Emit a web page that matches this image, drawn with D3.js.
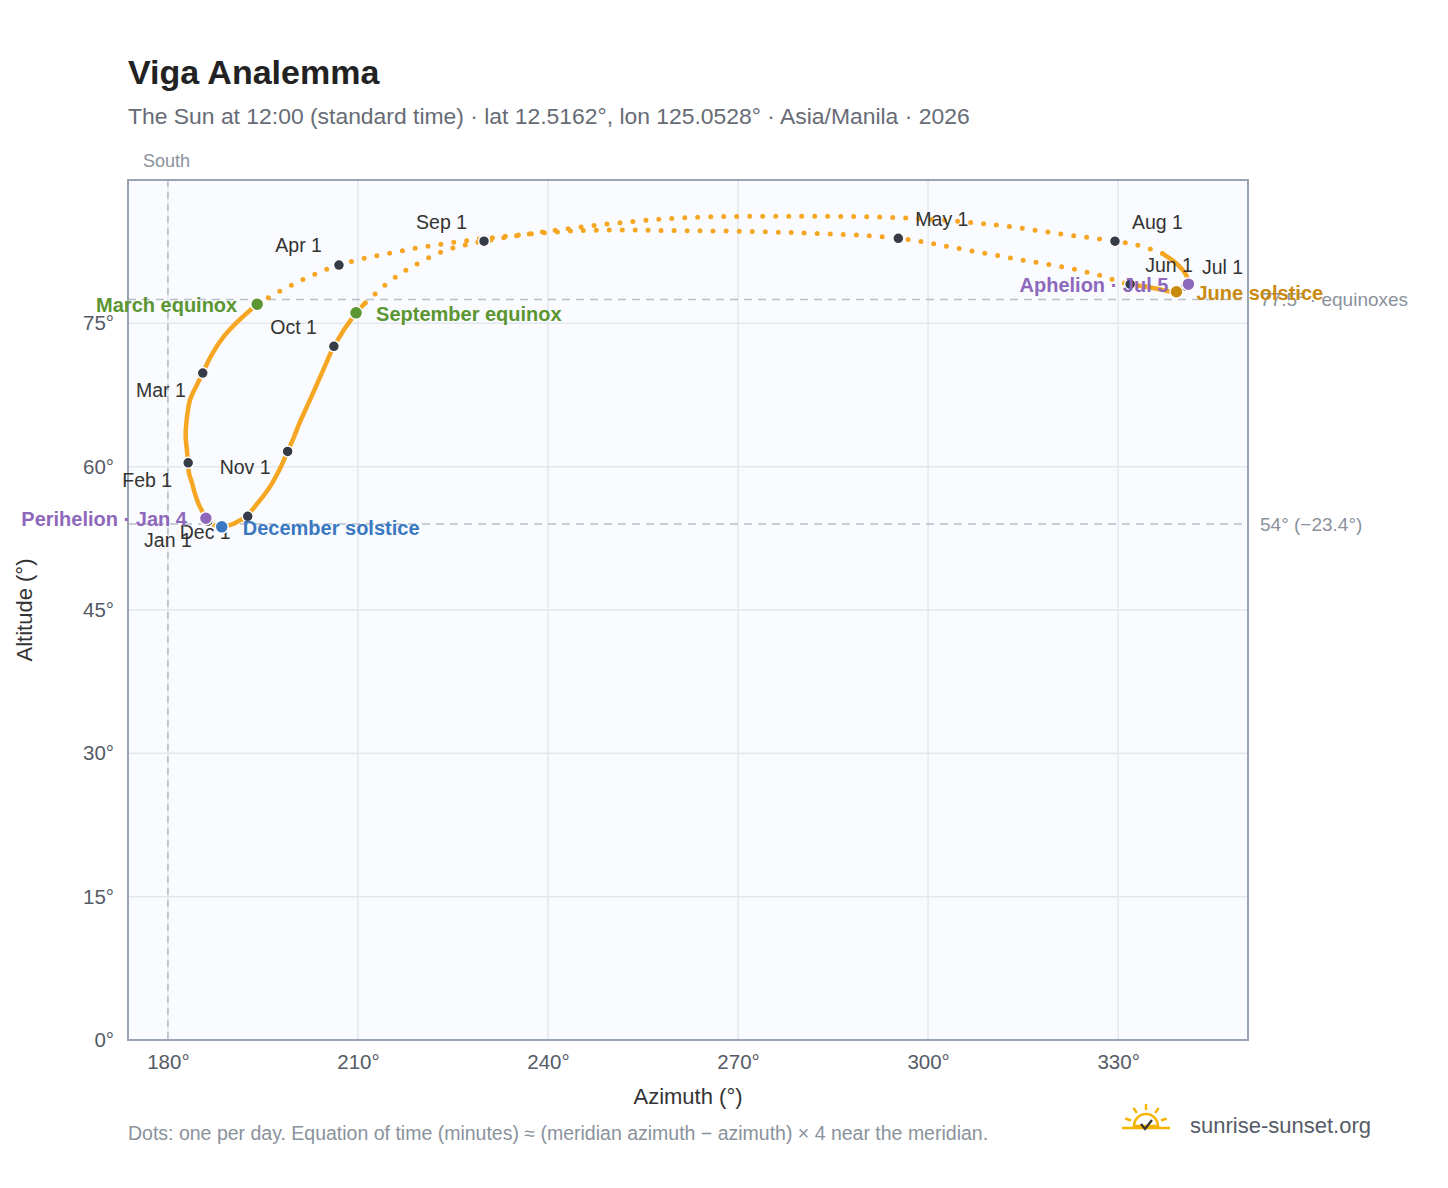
<!DOCTYPE html>
<html>
<head>
<meta charset="utf-8">
<script src="https://cdn.jsdelivr.net/npm/d3@7"></script>
<style>
  body { margin: 0; background: #fff; font-family: "Liberation Sans", Arial, sans-serif; }
</style>
</head>
<body>
<div id="root"></div>
<script>
const width = 1448;
const height = 1188;

const dates = ["Jan 1","Jan 6","Jan 11","Jan 16","Jan 21","Jan 26","Feb 1","Feb 6","Feb 11","Feb 16","Feb 21","Feb 26",
  "Mar 1","Mar 6","Mar 11","Mar 16","Mar 20","Mar 26","Apr 1","Apr 6","Apr 11","Apr 16","Apr 21","Apr 26",
  "May 1","May 6","May 11","May 16","May 21","May 26","Jun 1","Jun 6","Jun 11","Jun 16","Jun 21","Jun 26",
  "Jul 1","Jul 5","Jul 11","Jul 16","Jul 21","Jul 26","Aug 1","Aug 6","Aug 11","Aug 16","Aug 21","Aug 26",
  "Sep 1","Sep 6","Sep 11","Sep 16","Sep 21","Sep 23","Oct 1","Oct 6","Oct 11","Oct 16","Oct 21","Oct 26",
  "Nov 1","Nov 6","Nov 11","Nov 16","Nov 21","Nov 26","Dec 1","Dec 6","Dec 11","Dec 16","Dec 21","Dec 26","Dec 31"];
const azimuth = [186.3,185.7,184.9,184.3,183.8,183.3,183.2,183.0,182.8,183.0,183.5,184.6,
  185.5,186.9,188.8,191.2,194.1,200.1,207.0,216.2,227.7,245.1,260.8,278.2,
  295.3,305.1,314.2,322.0,327.2,330.0,331.9,334.7,337.0,338.4,339.2,340.1,
  340.7,341.1,340.7,339.3,337.0,333.5,329.5,321.6,310.6,297.2,279.8,257.7,
  229.9,223.3,218.5,215.4,211.1,209.7,206.2,205.1,203.7,202.3,200.8,199.9,
  198.9,197.7,196.3,194.8,193.7,193.1,192.6,191.4,190.3,189.3,188.5,187.3,186.3];
const altitude = [54.3,55.0,56.0,57.1,58.3,59.4,60.4,61.7,63.3,65.1,67.0,68.6,
  69.8,71.7,73.6,75.3,77.0,79.2,81.1,82.5,83.7,84.7,84.7,84.5,
  83.9,82.8,81.7,80.8,80.0,79.4,79.1,78.8,78.5,78.3,78.3,78.6,
  78.9,79.1,80.1,81.2,82.3,83.1,83.6,84.3,85.3,86.0,86.2,85.9,
  83.6,82.5,80.9,79.6,77.1,76.1,72.6,71.0,68.9,66.8,64.6,63.1,
  61.6,59.8,58.1,56.7,55.8,55.3,54.8,54.4,54.0,53.8,53.7,53.9,54.3];
// stretches where the daily dots spread apart (index ranges)
const sparseRanges = [[16, 30], [40, 52]];

const monthMarks = ["Jan 1","Feb 1","Mar 1","Apr 1","May 1","Jun 1","Jul 1","Aug 1","Sep 1","Oct 1","Nov 1","Dec 1"];
const monthOffsets = [[-16,26,"end"],[-16,24,"end"],[-17,24,"end"],[-17,-13,"end"],[17,-12,"start"],[15,-12,"start"],
  [16,-12,"start"],[17,-12,"start"],[-17,-12,"end"],[-17,-12,"end"],[-17,23,"end"],[-17,23,"end"]];

const events = [
  { date: "Mar 20", label: "March equinox", color: "#5b9632", dx: -20, anchor: "end" },
  { date: "Sep 23", label: "September equinox", color: "#5b9632", dx: 20, anchor: "start" },
  { date: "Dec 21", label: "December solstice", color: "#3a78c2", dx: 21, anchor: "start" },
  { date: "Jun 21", label: "June solstice", color: "#c98a10", dx: 20, anchor: "start" },
  { date: "Jan 1", label: "Perihelion · Jan 4", color: "#8e68bb", dx: -19, anchor: "end", az: 186.0, alt: 54.6 },
  { date: "Jul 5", label: "Aphelion · Jul 5", color: "#8e68bb", dx: -20, anchor: "end" }
];

const xTicks = [180, 210, 240, 270, 300, 330];
const yTicks = [0, 15, 30, 45, 60, 75];
const guideAlts = [77.5, 54];
const guideLabels = ["77.5° · equinoxes", "54° (−23.4°)"];

const points = dates.map((d, i) => ({ date: d, az: azimuth[i], alt: altitude[i] }));
const byDate = new Map(points.map(p => [p.date, p]));

const margin = { left: 128, right: 200, top: 180, bottom: 148 };
const x = d3.scaleLinear().domain([173.7, 350.5]).range([margin.left, width - margin.right]);
const y = d3.scaleLinear().domain([0, 90]).range([height - margin.bottom, margin.top]);

const svg = d3.select("#root").append("svg").attr("width", width).attr("height", height);

svg.append("text").attr("x", 128).attr("y", 84).attr("font-size", 34).attr("font-weight", "bold")
  .attr("fill", "#222").text("Viga Analemma");
svg.append("text").attr("x", 128).attr("y", 124).attr("font-size", 22.9).attr("fill", "#666b75")
  .text("The Sun at 12:00 (standard time) · lat 12.5162°, lon 125.0528° · Asia/Manila · 2026");

const x0 = x.range()[0], x1 = x.range()[1], y0 = y.range()[0], y1 = y.range()[1];
svg.append("rect").attr("x", x0).attr("y", y1).attr("width", x1 - x0).attr("height", y0 - y1)
  .attr("fill", "#f9fbfe");

// grid
svg.append("g").selectAll("line").data(xTicks).join("line")
  .attr("x1", d => x(d)).attr("x2", d => x(d)).attr("y1", y1).attr("y2", y0)
  .attr("stroke", "#e3e8ee").attr("stroke-width", 1.5);
svg.append("g").selectAll("line").data(yTicks).join("line")
  .attr("x1", x0).attr("x2", x1).attr("y1", d => y(d)).attr("y2", d => y(d))
  .attr("stroke", "#e3e8ee").attr("stroke-width", 1.5);

// guides
svg.append("line").attr("x1", x(180)).attr("x2", x(180)).attr("y1", y1).attr("y2", y0)
  .attr("stroke", "#b3bcc8").attr("stroke-width", 1.5).attr("stroke-dasharray", "7,5");
svg.append("text").attr("x", x(180) - 25).attr("y", 167).attr("font-size", 18).attr("fill", "#8a929c").text("South");
guideAlts.forEach((a, i) => {
  svg.append("line").attr("x1", x0).attr("x2", x1).attr("y1", y(a)).attr("y2", y(a))
    .attr("stroke", "#b8c0ca").attr("stroke-width", 1.5).attr("stroke-dasharray", "8,6");
  svg.append("text").attr("x", x1 + 12).attr("y", y(a) + 7).attr("font-size", 19).attr("fill", "#8a929c").text(guideLabels[i]);
});

svg.append("rect").attr("x", x0).attr("y", y1).attr("width", x1 - x0).attr("height", y0 - y1)
  .attr("fill", "none").attr("stroke", "#9aa5b4").attr("stroke-width", 2);

// axes
const xAxis = svg.append("g").attr("transform", `translate(0,${y0})`)
  .call(d3.axisBottom(x).tickValues(xTicks).tickSize(0).tickPadding(14).tickFormat(d => d + "°"));
const yAxis = svg.append("g").attr("transform", `translate(${x0},0)`)
  .call(d3.axisLeft(y).tickValues(yTicks).tickSize(0).tickPadding(14).tickFormat(d => d + "°"));
[xAxis, yAxis].forEach(a => {
  a.select(".domain").remove();
  a.selectAll("text").attr("font-size", 20.5).attr("fill", "#555b66").attr("font-family", "Liberation Sans, Arial");
});
svg.append("text").attr("x", (x0 + x1) / 2).attr("y", 1104).attr("text-anchor", "middle")
  .attr("font-size", 22).attr("fill", "#333").text("Azimuth (°)");
svg.append("text").attr("transform", `translate(32,${(y0 + y1) / 2}) rotate(-90)`).attr("text-anchor", "middle")
  .attr("font-size", 22).attr("fill", "#333").text("Altitude (°)");

// analemma path
const line = d3.line().x(d => x(d.az)).y(d => y(d.alt)).curve(d3.curveCatmullRom);
const isSparse = i => sparseRanges.some(r => i > r[0] && i <= r[1]);
const segs = [];
points.forEach((p, i) => {
  if (i === 0) return;
  const s = isSparse(i);
  const last = segs[segs.length - 1];
  if (last && last.sparse === s) last.pts.push(p);
  else segs.push({ sparse: s, pts: [points[i - 1], p] });
});
svg.append("g").selectAll("path").data(segs).join("path")
  .attr("d", d => line(d.pts)).attr("fill", "none").attr("stroke", "#f5a623")
  .attr("stroke-linecap", "round")
  .attr("stroke-width", d => d.sparse ? 5 : 4.5)
  .attr("stroke-dasharray", d => d.sparse ? "0,13" : null);

// month markers
const mg = svg.append("g");
monthMarks.forEach((m, i) => {
  const p = byDate.get(m);
  const o = monthOffsets[i];
  mg.append("circle").attr("cx", x(p.az)).attr("cy", y(p.alt)).attr("r", 5.5)
    .attr("fill", "#363c47").attr("stroke", "#fff").attr("stroke-width", 1.5);
  mg.append("text").attr("x", x(p.az) + o[0]).attr("y", y(p.alt) + o[1]).attr("text-anchor", o[2])
    .attr("font-size", 19.5).attr("fill", "#333").text(m);
});

// events
events.forEach(e => {
  const p = e.az ? e : byDate.get(e.date);
  svg.append("circle").attr("cx", x(p.az)).attr("cy", y(p.alt)).attr("r", 6.5)
    .attr("fill", e.color).attr("stroke", "#fff").attr("stroke-width", 1.5);
  svg.append("text").attr("x", x(p.az) + e.dx).attr("y", y(p.alt) + 8).attr("text-anchor", e.anchor)
    .attr("font-size", 20).attr("font-weight", "bold").attr("fill", e.color).text(e.label);
});

// footer
svg.append("text").attr("x", 128).attr("y", 1140).attr("font-size", 19.5).attr("fill", "#8a929c")
  .text("Dots: one per day. Equation of time (minutes) ≈ (meridian azimuth − azimuth) × 4 near the meridian.");
const logo = svg.append("g").attr("transform", "translate(1146,1126)");
logo.append("path").attr("d", d3.arc()({ innerRadius: 0, outerRadius: 12, startAngle: -Math.PI / 2, endAngle: Math.PI / 2 }))
  .attr("fill", "none").attr("stroke", "#f5b400").attr("stroke-width", 2.5);
[-70, -35, 0, 35, 70].forEach(a => {
  const r = a * Math.PI / 180;
  logo.append("line").attr("x1", 16 * Math.sin(r)).attr("y1", -16 * Math.cos(r))
    .attr("x2", 22 * Math.sin(r)).attr("y2", -22 * Math.cos(r)).attr("stroke", "#f5b400").attr("stroke-width", 2.5);
});
logo.append("line").attr("x1", -24).attr("x2", 24).attr("y1", 2).attr("y2", 2).attr("stroke", "#f5b400").attr("stroke-width", 2.5);
logo.append("path").attr("d", "M-5,-2 L-1,3 L6,-6").attr("fill", "none").attr("stroke", "#333").attr("stroke-width", 2.2);
svg.append("text").attr("x", 1190).attr("y", 1133).attr("font-size", 22).attr("fill", "#555b66").text("sunrise-sunset.org");
</script>
</body>
</html>
